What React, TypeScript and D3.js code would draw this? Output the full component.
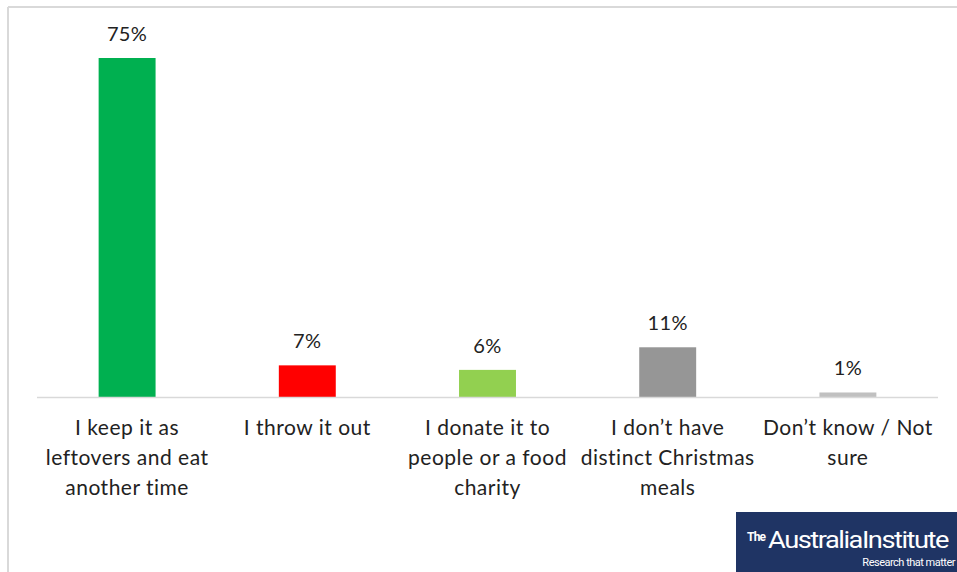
import React from "react";
import * as d3 from "d3";

const categories: string[][] = [
  ["I keep it as", "leftovers and eat", "another time"],
  ["I throw it out"],
  ["I donate it to", "people or a food", "charity"],
  ["I don\u2019t have", "distinct Christmas", "meals"],
  ["Don\u2019t know / Not", "sure"],
];
const values: number[] = [75, 7, 6, 11, 1];
const valueLabels: string[] = ["75%", "7%", "6%", "11%", "1%"];
const colors: string[] = ["#00b050", "#ff0000", "#92d050", "#969696", "#c0c0c0"];

const W = 957;
const H = 572;
const FONT = "Lato, 'Open Sans', sans-serif";

export default function App() {
  const x = d3
    .scaleBand<number>()
    .domain(values.map((_, i) => i))
    .range([37, 938])
    .paddingInner(0.684)
    .paddingOuter(0.342);
  const y = d3.scaleLinear().domain([0, 75]).range([397, 58]);

  return (
    <svg
      width={W}
      height={H}
      style={{ position: "absolute", left: 0, top: 0, background: "#fff" }}
    >
      <rect x={0} y={0} width={W} height={H} fill="#fff" />
      {/* chart border */}
      <line x1={8} y1={7} x2={8} y2={H} stroke="#d9d9d9" strokeWidth={2} />
      <line x1={8} y1={7} x2={W} y2={7} stroke="#d9d9d9" strokeWidth={2} />

      {values.map((v, i) => (
        <g key={i}>
          <rect
            x={x(i)}
            y={y(v)}
            width={x.bandwidth()}
            height={y(0) - y(v)}
            fill={colors[i]}
          />
          <text
            x={(x(i) as number) + x.bandwidth() / 2}
            y={y(v) - 17}
            textAnchor="middle"
            fontFamily={FONT}
            fontSize={20}
            letterSpacing={0.4}
            fill="#222"
          >
            {valueLabels[i]}
          </text>
          {categories[i].map((line, j) => (
            <text
              key={j}
              x={(x(i) as number) + x.bandwidth() / 2}
              y={435 + j * 30}
              textAnchor="middle"
              fontFamily={FONT}
              fontSize={21}
              letterSpacing={0.5}
              fill="#222"
            >
              {line}
            </text>
          ))}
        </g>
      ))}

      <line x1={37} y1={397.5} x2={938} y2={397.5} stroke="#d9d9d9" strokeWidth={1.5} />

      {/* logo */}
      <rect x={736} y={512} width={W - 736} height={H - 512} fill="#1f3464" />
      <text x={747} y={541} fontFamily="Roboto, 'Open Sans', sans-serif" fontSize={12} fontWeight="bold" fill="#fff" letterSpacing={-0.8}>
        The
      </text>
      <text x={768} y={548} fontFamily="Roboto, 'Open Sans', sans-serif" fontSize={24} fill="#fff" letterSpacing={-1.3} textLength={180} lengthAdjust="spacingAndGlyphs">
        AustraliaInstitute
      </text>
      <text x={955} y={566} textAnchor="end" fontFamily="'Liberation Sans Narrow', Roboto, sans-serif" fontSize={11} fill="#fff" letterSpacing={-0.5}>
        Research that matter
      </text>
    </svg>
  );
}
